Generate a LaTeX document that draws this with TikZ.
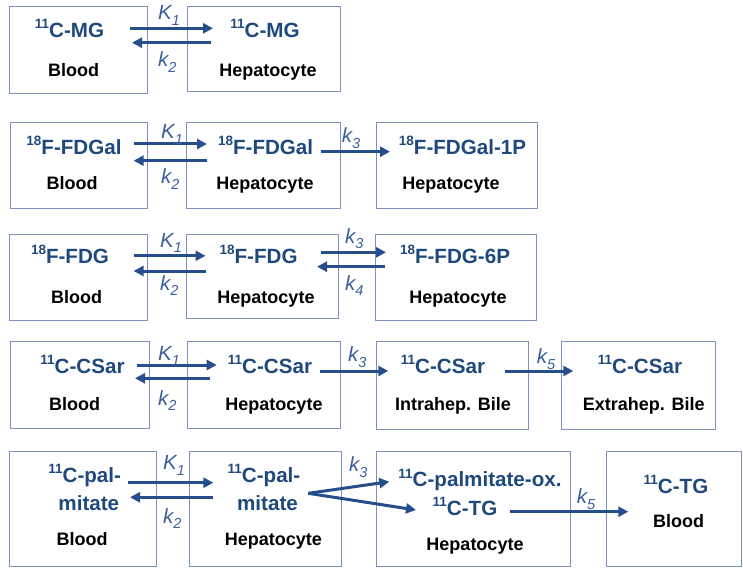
\documentclass[tikz,border=0pt]{standalone}
\usepackage{fontspec}
\setmainfont{Liberation Sans}
\usetikzlibrary{arrows.meta,fit}
\definecolor{tblue}{RGB}{31,73,125}
\definecolor{ablue}{RGB}{38,78,138}
\definecolor{lblue}{RGB}{60,95,155}
\definecolor{bline}{RGB}{125,145,185}
\newcommand\upn[1]{\raisebox{0.42em}{\fontsize{13.5}{13.5}\selectfont #1}}
\newcommand\dnn[1]{\raisebox{-0.28em}{\fontsize{14.5}{14.5}\selectfont #1}}
\begin{document}
\begin{tikzpicture}[x=1pt,y=-1pt,
  box/.style={draw=bline, line width=1pt, inner sep=0pt, outer sep=0pt},
  chem/.style={anchor=base, inner sep=0pt, text=tblue, font=\fontsize{20.6}{22}\selectfont\bfseries},
  comp/.style={anchor=base, inner sep=0pt, text=black, font=\fontsize{18}{20}\selectfont\bfseries},
  rate/.style={anchor=base west, inner sep=0pt, text=lblue, font=\fontsize{20.5}{22}\selectfont\itshape},
  flow/.style={draw=ablue, line width=3pt, -{Triangle[length=10pt,width=10pt]}},
]
\useasboundingbox (0,0) rectangle (743,569);

% ---------- Row 1 ----------
\node[box, fit={(9.3,6.7) (147.7,93.3)}] (r1a) {};
\node[box, fit={(187.7,6.7) (340,91.7)}] (r1b) {};
\node[chem] (r1at) at (69.5,37.5) {\upn{11}C-MG};
\node[comp] (r1al) at (73.5,77) {Blood};
\node[chem] (r1bt) at (265,37.5) {\upn{11}C-MG};
\node[comp] (r1bl) at (268,77) {Hepatocyte};
\coordinate (r1p1) at (130,28.3); \coordinate (r1q1) at (213,28.3);
\coordinate (r1p2) at (211,42.7); \coordinate (r1q2) at (132,42.7);
\draw[flow] (r1p1) -- (r1q1);
\draw[flow] (r1p2) -- (r1q2);
\node[rate] (r1k1) at (158,20) {K\dnn{1}};
\node[rate] (r1k2) at (158,66.7) {k\dnn{2}};

% ---------- Row 2 ----------
\node[box, fit={(10.3,122.7) (147,209)}] (r2a) {};
\node[box, fit={(186.6,122.7) (340,209)}] (r2b) {};
\node[box, fit={(376,122.7) (537.3,209)}] (r2c) {};
\node[chem] (r2at) at (74,154.5) {\upn{18}F-FDGal};
\node[comp] (r2al) at (72,190) {Blood};
\node[chem] (r2bt) at (265.6,154.5) {\upn{18}F-FDGal};
\node[comp] (r2bl) at (265,190) {Hepatocyte};
\node[chem] (r2ct) at (462.5,154.5) {\upn{18}F-FDGal-1P};
\node[comp] (r2cl) at (451,190) {Hepatocyte};
\coordinate (r2p1) at (133.6,144); \coordinate (r2q1) at (207,144);
\coordinate (r2p2) at (207,160.7); \coordinate (r2q2) at (133.6,160.7);
\coordinate (r2p3) at (320.7,151.7); \coordinate (r2q3) at (390,151.7);
\draw[flow] (r2p1) -- (r2q1);
\draw[flow] (r2p2) -- (r2q2);
\draw[flow] (r2p3) -- (r2q3);
\node[rate] (r2k1) at (161,139) {K\dnn{1}};
\node[rate] (r2k2) at (161,184) {k\dnn{2}};
\node[rate] (r2k3) at (341.7,143) {k\dnn{3}};

% ---------- Row 3 ----------
\node[box, fit={(9.6,234.3) (147,320.7)}] (r3a) {};
\node[box, fit={(186.6,234.3) (338.3,318.3)}] (r3b) {};
\node[box, fit={(375,234.3) (536.7,320.7)}] (r3c) {};
\node[chem] (r3at) at (70,263) {\upn{18}F-FDG};
\node[comp] (r3al) at (76.5,303) {Blood};
\node[chem] (r3bt) at (258.6,263) {\upn{18}F-FDG};
\node[comp] (r3bl) at (266,303) {Hepatocyte};
\node[chem] (r3ct) at (455,263) {\upn{18}F-FDG-6P};
\node[comp] (r3cl) at (458,303) {Hepatocyte};
\coordinate (r3p1) at (133.6,255.8); \coordinate (r3q1) at (205.5,255.8);
\coordinate (r3p2) at (205.5,271); \coordinate (r3q2) at (133.6,271);
\coordinate (r3p3) at (320.7,252.3); \coordinate (r3q3) at (386,252.3);
\coordinate (r3p4) at (385,266.7); \coordinate (r3q4) at (317,266.7);
\draw[flow] (r3p1) -- (r3q1);
\draw[flow] (r3p2) -- (r3q2);
\draw[flow] (r3p3) -- (r3q3);
\draw[flow] (r3p4) -- (r3q4);
\node[rate] (r3k1) at (160,247) {K\dnn{1}};
\node[rate] (r3k2) at (160,290) {k\dnn{2}};
\node[rate] (r3k3) at (345,243) {k\dnn{3}};
\node[rate] (r3k4) at (345,290) {k\dnn{4}};

% ---------- Row 4 ----------
\node[box, fit={(10,341) (149,428.3)}] (r4a) {};
\node[box, fit={(187.7,341) (340,428.3)}] (r4b) {};
\node[box, fit={(376,341) (528.3,429)}] (r4c) {};
\node[box, fit={(561.7,341) (715,429)}] (r4d) {};
\node[chem] (r4at) at (82.5,373) {\upn{11}C-CSar};
\node[comp] (r4al) at (74.5,410) {Blood};
\node[chem] (r4bt) at (270,373) {\upn{11}C-CSar};
\node[comp] (r4bl) at (274,410) {Hepatocyte};
\node[chem] (r4ct) at (443,373) {\upn{11}C-CSar};
\node[comp] (r4cl) at (453,410) {Intrahep. Bile};
\node[chem] (r4dt) at (640,373) {\upn{11}C-CSar};
\node[comp] (r4dl) at (643.7,410) {Extrahep. Bile};
\coordinate (r4p1) at (136.7,365); \coordinate (r4q1) at (216.7,365);
\coordinate (r4p2) at (210,378.3); \coordinate (r4q2) at (135,378.3);
\coordinate (r4p3) at (320,371); \coordinate (r4q3) at (388.3,371);
\coordinate (r4p5) at (505,371); \coordinate (r4q5) at (573.3,371);
\draw[flow] (r4p1) -- (r4q1);
\draw[flow] (r4p2) -- (r4q2);
\draw[flow] (r4p3) -- (r4q3);
\draw[flow] (r4p5) -- (r4q5);
\node[rate] (r4k1) at (158,360) {K\dnn{1}};
\node[rate] (r4k2) at (158,405) {k\dnn{2}};
\node[rate] (r4k3) at (348,361.7) {k\dnn{3}};
\node[rate] (r4k5) at (536.7,363.3) {k\dnn{5}};

% ---------- Row 5 ----------
\node[box, fit={(9.3,451.7) (156,566.5)}] (r5a) {};
\node[box, fit={(189.3,451.7) (341.7,566.5)}] (r5b) {};
\node[box, fit={(376.7,451.7) (570.7,566.5)}] (r5c) {};
\node[box, fit={(606.7,451.7) (741,566.5)}] (r5d) {};
\node[chem] (r5at1) at (84.7,482) {\upn{11}C-pal-};
\node[chem] (r5at2) at (88.8,510) {mitate};
\node[comp] (r5al) at (82,545) {Blood};
\node[chem] (r5bt1) at (264,482) {\upn{11}C-pal-};
\node[chem] (r5bt2) at (267.5,510) {mitate};
\node[comp] (r5bl) at (273.3,545) {Hepatocyte};
\node[chem] (r5ct1) at (480,486.7) {\upn{11}C-palmitate-ox.};
\node[chem] (r5ct2) at (465,515) {\upn{11}C-TG};
\node[comp] (r5cl) at (475,550) {Hepatocyte};
\node[chem] (r5dt) at (676,493) {\upn{11}C-TG};
\node[comp] (r5dl) at (678.5,527) {Blood};
\coordinate (r5p1) at (128.3,482.7); \coordinate (r5q1) at (213.3,482.7);
\coordinate (r5p2) at (212.7,497.3); \coordinate (r5q2) at (130,497.3);
\coordinate (r5fork) at (308.3,493.3);
\coordinate (r5qa) at (389.3,481.7); \coordinate (r5qb) at (416,510);
\coordinate (r5p5) at (510,511.7); \coordinate (r5q5) at (628.3,511.7);
\draw[flow] (r5p1) -- (r5q1);
\draw[flow] (r5p2) -- (r5q2);
\draw[flow] (r5fork) -- (r5qa);
\draw[flow] (r5fork) -- (r5qb);
\draw[flow] (r5p5) -- (r5q5);
\node[rate] (r5k1) at (163,469.3) {K\dnn{1}};
\node[rate] (r5k2) at (163,523) {k\dnn{2}};
\node[rate] (r5k3) at (349,471.7) {k\dnn{3}};
\node[rate] (r5k5) at (576.7,503.3) {k\dnn{5}};
\end{tikzpicture}
\end{document}
